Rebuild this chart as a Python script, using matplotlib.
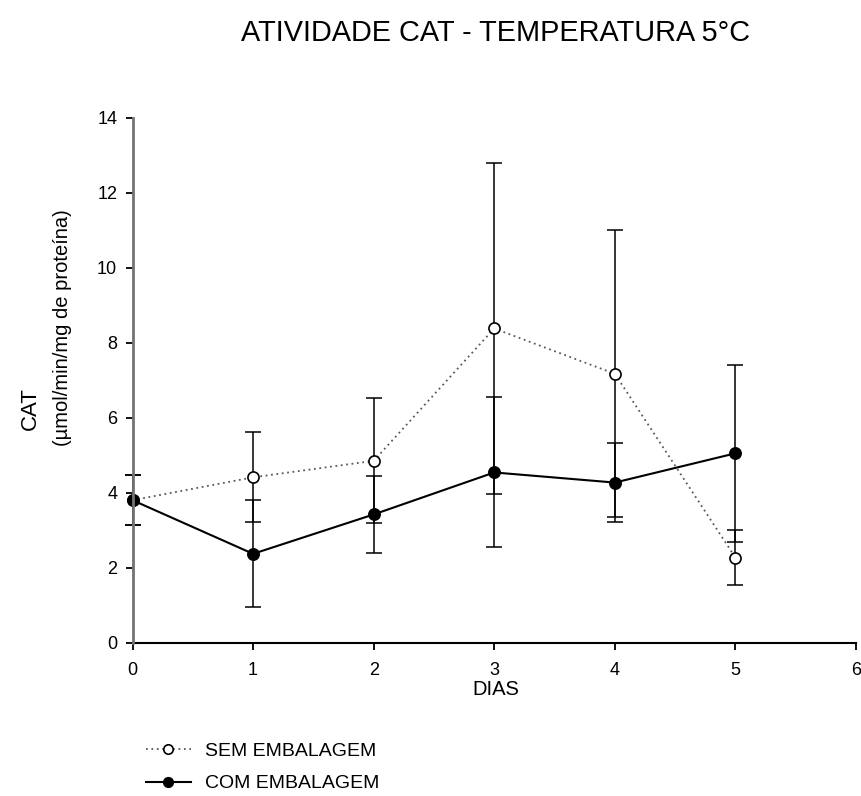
import matplotlib
matplotlib.use("Agg")
from matplotlib import pyplot as plt

plt.rcParams['font.family'] = ['Liberation Sans', 'DejaVu Sans']

dias = [0, 1, 2, 3, 4, 5]

# sem embalagem (media e desvio)
sem = [3.80, 4.41, 4.85, 8.38, 7.17, 2.27]
sem_err = [0.67, 1.20, 1.67, 4.42, 3.83, 0.73]

# com embalagem
com = [3.80, 2.37, 3.42, 4.54, 4.27, 5.05]
com_err = [0.67, 1.43, 1.03, 2.00, 1.06, 2.36]

fig = plt.figure(figsize=(8.61, 7.96), dpi=100)
ax = fig.add_axes([0.1539, 0.1926, 0.8403, 0.6595])

for y, e in [(sem, sem_err), (com, com_err)]:
    eb = ax.errorbar(dias, y, yerr=e, fmt='none', ecolor='black',
                     elinewidth=1.1, capsize=5.5, capthick=1.1, zorder=2)
    for art in eb.lines[1] + eb.lines[2]:
        art.set_clip_on(False)

l1, = ax.plot(dias, sem, color='0.35', linestyle=(0, (1, 2)), linewidth=1.3,
              marker='o', markersize=8, markerfacecolor='white',
              markeredgecolor='black', markeredgewidth=1.2, zorder=3,
              clip_on=False)
l2, = ax.plot(dias, com, color='black', linestyle='-', linewidth=1.5,
              marker='o', markersize=8.3, markerfacecolor='black',
              markeredgecolor='black', zorder=4, clip_on=False)

ax.set_xlim(0, 6)
ax.set_ylim(0, 14)
ax.set_xticks(range(0, 7))
ax.set_yticks(range(0, 15, 2))

for s in ['top', 'right']:
    ax.spines[s].set_visible(False)
ax.spines['left'].set_color('0.45')
ax.spines['left'].set_linewidth(2)
ax.spines['bottom'].set_linewidth(1.5)
ax.tick_params(axis='both', direction='out', length=5, width=1.3,
               labelsize=13, colors='black')
ax.tick_params(axis='x', pad=9)
ax.tick_params(axis='y', pad=6)
ax.spines['left'].set_zorder(5)

fig.text(0.576, 0.958, 'ATIVIDADE CAT - TEMPERATURA 5°C', ha='center',
         va='center', fontsize=20.8)
fig.text(0.576, 0.134, 'DIAS', ha='center', va='center', fontsize=14.5)
fig.text(0.035, 0.487, 'CAT', rotation=90, ha='center', va='center',
         fontsize=16)
fig.text(0.073, 0.588, '(µmol/min/mg de proteína)', rotation=90,
         ha='center', va='center', fontsize=14.5)

fig.legend([l1, l2], ['SEM EMBALAGEM', 'COM EMBALAGEM'], loc='upper left',
           bbox_to_anchor=(0.169, 0.067), bbox_transform=fig.transFigure,
           frameon=False, fontsize=14, handlelength=2.35, handletextpad=0.7,
           labelspacing=0.75, borderaxespad=0, borderpad=0, markerscale=0.85)

fig.savefig('out.png', dpi=100)
